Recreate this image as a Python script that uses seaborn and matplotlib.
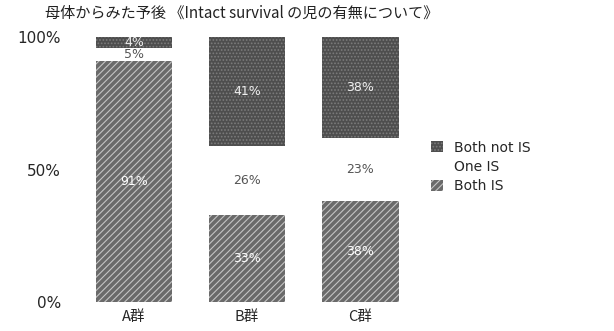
import matplotlib
matplotlib.use("Agg")
import matplotlib.pyplot as plt
from matplotlib.patches import Patch
import seaborn as sns
import pandas as pd

# Outcome shares per group (percent)
groups = ["A群", "B群", "C群"]
both_is = [91, 33, 38]
one_is = [5, 26, 23]
both_not_is = [4, 41, 38]
series_names = ["Both not IS", "One IS", "Both IS"]
y_ticks = [0, 50, 100]
y_tick_labels = ["0%", "50%", "100%"]
title = "母体からみた予後 《Intact survival の児の有無について》"

sns.set_theme(style="white")
plt.rcParams["font.family"] = ["Noto Sans CJK JP", "DejaVu Sans"]
plt.rcParams["hatch.linewidth"] = 0.8

df = pd.DataFrame({
    "group": groups,
    "both_is": both_is,
    "one_is": one_is,
    "both_not_is": both_not_is,
})
# Stacked as a 100% bar: "Both not IS" hangs from the top, "Both IS" rises
# from the bottom, "One IS" is the blank band in between.
df["total"] = 100
df["below_top"] = df["total"] - df["both_not_is"]

fig = plt.figure(figsize=(6.14, 3.31), dpi=100)
ax = fig.add_axes([65 / 614, 29 / 331, 355 / 614, 265 / 331])

bar_w = 0.68
styles = [
    ("total", "#4e4e4e", "#7c7c7c", "....."),
    ("below_top", "white", "white", None),
    ("both_is", "#6a6a6a", "#c4c4c4", "/////"),
]
for col, face, edge, hatch in styles:
    sns.barplot(data=df, x="group", y=col, color=face, width=bar_w,
                saturation=1, ax=ax, order=groups)
    for p in ax.containers[-1]:
        p.set_facecolor(face)
        p.set_edgecolor(edge)
        p.set_linewidth(0)
        if hatch:
            p.set_hatch(hatch)

# Segment labels at each segment's middle
for i, row in df.iterrows():
    segs = [
        (row["both_is"] / 2, row["both_is"], "white"),
        ((row["both_is"] + row["below_top"]) / 2, row["one_is"], "#555555"),
        (row["total"] - row["both_not_is"] / 2, row["both_not_is"], "#eeeeee"),
    ]
    for y, v, c in segs:
        ax.text(i, y, f"{v}%", ha="center", va="center",
                fontsize=9, color=c, family=["DejaVu Sans"])

ax.set_ylim(0, 100)
ax.set_xlim(-0.61, 2.53)
ax.set_yticks(y_ticks)
ax.set_yticklabels(y_tick_labels, fontsize=11, family=["DejaVu Sans"])
ax.tick_params(axis="y", length=0, pad=3)
ax.tick_params(axis="x", length=0, pad=6, labelsize=10.5)
ax.set_xlabel("")
ax.set_ylabel("")
for s in ax.spines.values():
    s.set_visible(False)

fig.text(45 / 614, 1 - 13 / 331, title, fontsize=10.9, va="center",
         ha="left", color="#222222")

handles = [
    Patch(facecolor="#4e4e4e", edgecolor="#7c7c7c", hatch=".....", linewidth=0),
    Patch(facecolor="white", edgecolor="white", linewidth=0),
    Patch(facecolor="#6a6a6a", edgecolor="#c4c4c4", hatch="/////", linewidth=0),
]
fig.legend(handles, series_names, loc="upper left",
           bbox_to_anchor=(418 / 614, 1 - 128 / 331), frameon=False,
           handlelength=0.9, handleheight=0.9,
           handletextpad=0.8, labelspacing=0.38,
           prop={"family": ["DejaVu Sans"], "size": 10})

fig.savefig("out.png", dpi=100)
